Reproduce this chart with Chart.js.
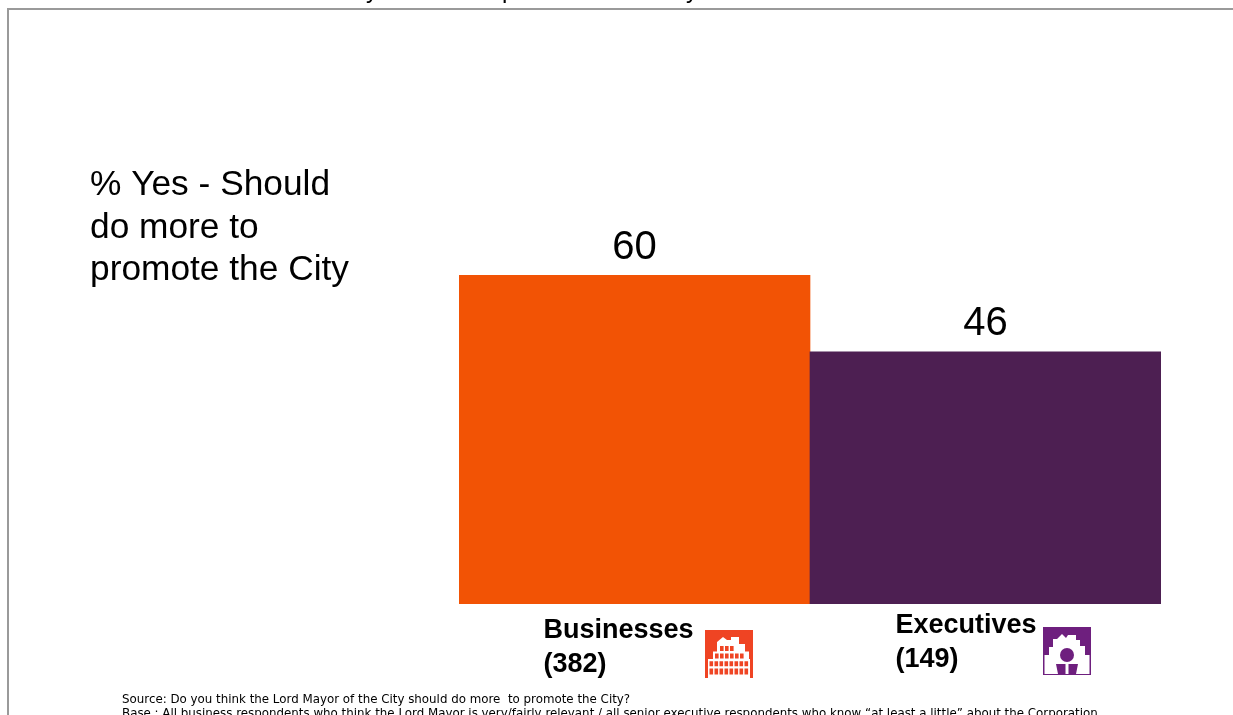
<!DOCTYPE html>
<html>
<head>
<meta charset="utf-8">
<title>% Yes - Should do more to promote the City</title>
<script src="https://cdn.jsdelivr.net/npm/chart.js@4/dist/chart.umd.min.js"></script>
<style>
  html, body { margin: 0; padding: 0; background: #fff; overflow: hidden; }
  #wrap { position: relative; width: 1233px; height: 715px; }
  #frame { position: absolute; left: 7px; top: 8px; width: 1240px; height: 720px; border: 2px solid #9a9a9a; box-sizing: border-box; }
  canvas { position: absolute; left: 0; top: 0; }
  svg.icon { position: absolute; width: 48px; height: 48px; filter: blur(.35px); }
</style>
</head>
<body>
<div id="wrap">
  <div id="frame"></div>
  <canvas id="c" width="1233" height="715"></canvas>

  <!-- businesses pictogram -->
  <svg class="icon" style="left:705px;top:630px" viewBox="0 0 48 48">
    <rect width="48" height="48" fill="#ef4423"/>
    <path d="M3 48V29H8V21.5H12V12L18 7 22 10 26 10V7H34V14H40V21.5H44V29H45V48Z" fill="#fff"/>
    <g stroke="#ef4423" fill="none" stroke-width="5" stroke-dasharray="3.6 1.4">
      <path d="M15 18.5H29"/>
      <path d="M10 26H39"/>
      <path d="M4.5 33.7H44"/>
      <path stroke-width="6" d="M4.5 41.5H44"/>
    </g>
  </svg>

  <!-- executives pictogram -->
  <svg class="icon" style="left:1043px;top:627px" viewBox="0 0 48 48">
    <rect width="48" height="48" fill="#6e1f7e"/>
    <path d="M1.5 47V28H6V20H10V12H14L19 7 23 11 25 8H33V13H37V19H42V28H46.5V47Z" fill="#fff"/>
    <circle cx="24" cy="28" r="7" fill="#6e1f7e"/>
    <path d="M13 37H22.5V47H15ZM25.5 37H35L33 47H25.5Z" fill="#6e1f7e"/>
  </svg>
</div>

<script>
const categories = ['Businesses', 'Executives'];
const bases = ['(382)', '(149)'];
const values = [60, 46];
const barColors = ['#f25305', '#4d1f52'];
const noteLines = ['% Yes - Should', 'do more to', 'promote the City'];
const sourceLines = [
  'Source: Do you think the Lord Mayor of the City should do more  to promote the City?',
  'Base : All business respondents who think the Lord Mayor is very/fairly relevant / all senior executive respondents who know \u201Cat least a little\u201D about the Corporation'
];
// only the tails of the cut off heading are visible at the very top
const headingTails = ['y', 'p', 'y'];

const SANS = '"Liberation Sans", Arial, sans-serif';

// per category label placement, relative to the bar centre
const labelOffsets = [{ x: -91, y: 638 }, { x: -90, y: 633 }];

const textPlugin = {
  id: 'textPlugin',
  afterDraw(chart) {
    const cx = chart.ctx;
    const bars = chart.getDatasetMeta(0).data;
    cx.save();
    cx.fillStyle = '#000';
    cx.textBaseline = 'alphabetic';

    // value labels above each bar
    cx.font = '40px ' + SANS;
    cx.textAlign = 'center';
    bars.forEach((b, i) => cx.fillText(String(values[i]), b.x, b.y - 16 - i));

    // category labels under the bars
    cx.textAlign = 'left';
    cx.font = 'bold 27px ' + SANS;
    bars.forEach((b, i) => {
      const o = labelOffsets[i];
      cx.fillText(categories[i], b.x + o.x, o.y);
      cx.fillText(bases[i], b.x + o.x, o.y + 34);
    });

    // note on the left
    cx.font = '35.3px ' + SANS;
    noteLines.forEach((t, i) => cx.fillText(t, 90, 195 + i * 42.5));

    // source lines
    cx.font = '11.85px "DejaVu Sans", sans-serif';
    sourceLines.forEach((t, i) => cx.fillText(t, 122, 703 + i * 14));

    // heading remains
    cx.font = '24px ' + SANS;
    [366, 502, 686].forEach((x, i) => cx.fillText(headingTails[i], x, -2));
    cx.restore();
  },
};

new Chart(document.getElementById('c'), {
  type: 'bar',
  data: {
    labels: categories,
    datasets: [{
      data: values,
      backgroundColor: barColors,
      borderWidth: 0,
      barPercentage: 1,
      categoryPercentage: 1,
    }],
  },
  options: {
    responsive: false,
    animation: false,
    layout: { padding: { left: 459, right: 72, top: 275, bottom: 111 } },
    plugins: { legend: { display: false }, tooltip: { enabled: false } },
    scales: {
      x: { display: false },
      y: { display: false, min: 0, max: 60 },
    },
  },
  plugins: [textPlugin],
});
</script>
</body>
</html>
